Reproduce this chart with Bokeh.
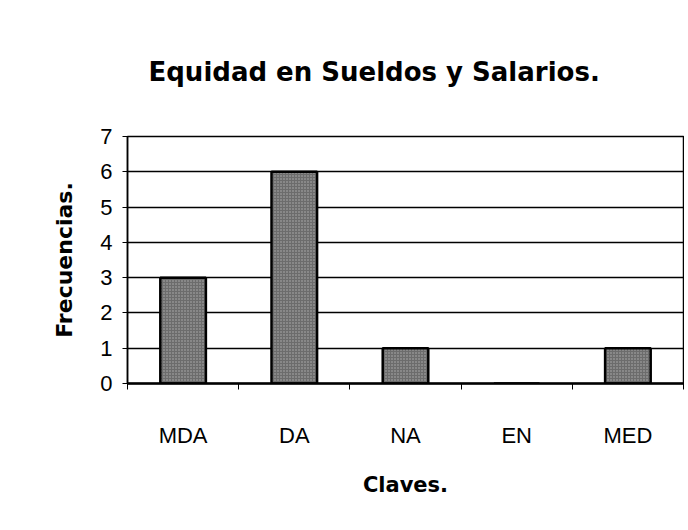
from bokeh.plotting import figure
from bokeh.models import FixedTicker, Range1d, Title
from bokeh.embed import file_html
from bokeh.resources import INLINE

categories = ["MDA", "DA", "NA", "EN", "MED"]
frequencies = [3, 6, 1, 0, 1]
y_ticks = [0, 1, 2, 3, 4, 5, 6, 7]

centers = [i + 0.5 for i in range(len(categories))]
bounds = list(range(len(categories) + 1))

p = figure(width=684, height=528, output_backend="svg", toolbar_location=None,
           x_range=Range1d(0, len(categories)), y_range=Range1d(0, 7),
           min_border_left=127, min_border_right=1, min_border_top=136, min_border_bottom=145,
           title=None)

# spacer between frame and title
p.add_layout(Title(text=" ", text_font_size="30px"), "above")
p.add_layout(Title(text="Equidad en Sueldos y Salarios.", text_font="DejaVu Sans",
                   text_font_size="26px", text_font_style="bold", text_color="black",
                   align="left", offset=21), "above")

p.vbar(x=centers, top=frequencies, width=0.41, bottom=0,
       fill_color="#6c6c6c", line_color="black", line_width=2.5,
       hatch_pattern="dot", hatch_color="#e0e0e0", hatch_scale=3, hatch_alpha=0.6)

p.outline_line_color = "black"
p.outline_line_width = 1.5

# x axis
xa = p.xaxis[0]
xa.ticker = FixedTicker(ticks=centers, minor_ticks=bounds)
xa.major_label_overrides = {c: lab for c, lab in zip(centers, categories)}
xa.major_tick_out = 0
xa.major_tick_in = 0
xa.minor_tick_out = 6
xa.minor_tick_in = 0
xa.minor_tick_line_color = "black"
xa.axis_line_color = "black"
xa.axis_line_width = 2.5
xa.major_label_text_font = "Liberation Sans"
xa.major_label_text_font_size = "22px"
xa.major_label_text_color = "black"
xa.major_label_standoff = 33
xa.axis_label = "Claves."
xa.axis_label_text_font = "DejaVu Sans"
xa.axis_label_text_font_size = "21px"
xa.axis_label_text_font_style = "bold"
xa.axis_label_text_color = "black"
xa.axis_label_standoff = 22

# y axis
ya = p.yaxis[0]
ya.ticker = FixedTicker(ticks=y_ticks)
ya.minor_tick_line_color = None
ya.major_tick_out = 5
ya.major_tick_in = 0
ya.major_tick_line_color = "black"
ya.axis_line_color = "black"
ya.axis_line_width = 1.5
ya.major_label_text_font = "Liberation Sans"
ya.major_label_text_font_size = "22px"
ya.major_label_text_color = "black"
ya.major_label_standoff = 10
ya.axis_label = "Frecuencias."
ya.axis_label_text_font = "DejaVu Sans"
ya.axis_label_text_font_size = "22px"
ya.axis_label_text_font_style = "bold"
ya.axis_label_text_color = "black"
ya.axis_label_standoff = 20

p.xgrid.grid_line_color = None
p.ygrid.grid_line_color = "black"
p.ygrid.grid_line_width = 1.5
p.ygrid.grid_line_alpha = 1.0

open("out.html", "w").write(file_html(p, INLINE))
